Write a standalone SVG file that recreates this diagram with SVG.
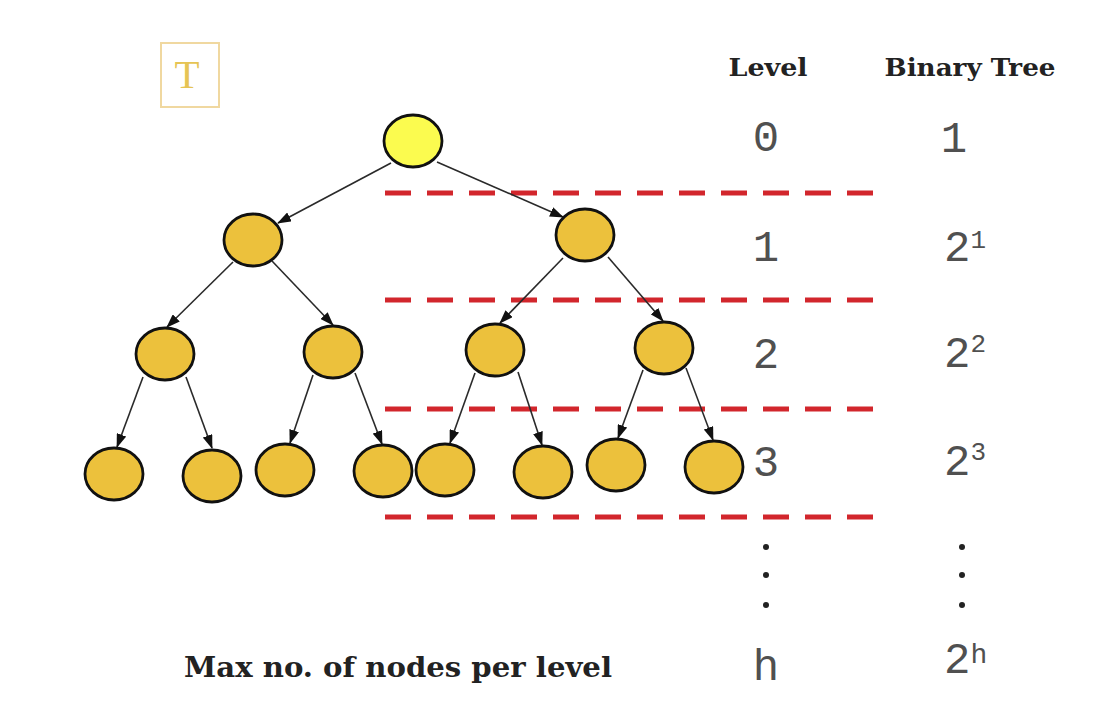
<svg xmlns="http://www.w3.org/2000/svg" width="1116" height="712" viewBox="0 0 1116 712">
<style>
.node{fill:#ecc13c;stroke:#111;stroke-width:2.8}
.root{fill:#fbfb4f;stroke:#111;stroke-width:2.8}
.edge{stroke:#2a2a2a;stroke-width:1.6;fill:none;marker-end:url(#arr)}
.dash{stroke:#d2262c;stroke-width:5;stroke-dasharray:26 16;fill:none}
.hdr{font-family:"DejaVu Serif",serif;font-weight:bold;fill:#222}
.num{font-family:"Liberation Mono","Courier New",monospace;font-size:44px;fill:#505050}
.dot{fill:#222}
</style>
<defs>
<marker id="arr" markerWidth="14" markerHeight="10" refX="13" refY="5" orient="auto" markerUnits="userSpaceOnUse">
<path d="M0,0 L14,5 L0,10 Z" fill="#111"/>
</marker>
</defs>
<rect width="1116" height="712" fill="#fff"/>

<g id="label-T">
<rect x="161" y="43" width="58" height="64" fill="none" stroke="#f0d8a0" stroke-width="2"/>
<text x="187" y="88" text-anchor="middle" font-family="Liberation Serif,serif" font-size="41" fill="#e6c454">T</text>
</g>

<g id="levels">
<line class="dash" x1="385" y1="193" x2="873" y2="193"/>
<line class="dash" x1="385" y1="300" x2="873" y2="300"/>
<line class="dash" x1="385" y1="409" x2="873" y2="409"/>
<line class="dash" x1="385" y1="517" x2="873" y2="517"/>
</g>

<g id="connectors">
<line class="edge" x1="391" y1="163" x2="278" y2="223"/>
<line class="edge" x1="437" y1="162" x2="563" y2="217"/>
<line class="edge" x1="233" y1="262" x2="167" y2="327"/>
<line class="edge" x1="272" y1="261" x2="333" y2="325"/>
<line class="edge" x1="563" y1="258" x2="500" y2="323"/>
<line class="edge" x1="608" y1="257" x2="663" y2="321"/>
<line class="edge" x1="143" y1="377" x2="117" y2="447"/>
<line class="edge" x1="186" y1="377" x2="212" y2="448"/>
<line class="edge" x1="313" y1="375" x2="290" y2="443"/>
<line class="edge" x1="355" y1="373" x2="382" y2="444"/>
<line class="edge" x1="475" y1="373" x2="450" y2="443"/>
<line class="edge" x1="518" y1="372" x2="542" y2="445"/>
<line class="edge" x1="643" y1="370" x2="618" y2="438"/>
<line class="edge" x1="686" y1="368" x2="713" y2="440"/>
</g>

<g id="n0"><ellipse class="root" cx="413" cy="141" rx="29" ry="26"/></g>
<g id="n1"><ellipse class="node" cx="253" cy="240" rx="29" ry="26"/></g>
<g id="n2"><ellipse class="node" cx="585" cy="235" rx="29" ry="26"/></g>
<g id="n3"><ellipse class="node" cx="165" cy="354" rx="29" ry="26"/></g>
<g id="n4"><ellipse class="node" cx="333" cy="352" rx="29" ry="26"/></g>
<g id="n5"><ellipse class="node" cx="495" cy="350" rx="29" ry="26"/></g>
<g id="n6"><ellipse class="node" cx="664" cy="348" rx="29" ry="26"/></g>
<g id="n7"><ellipse class="node" cx="114" cy="474" rx="29" ry="26"/></g>
<g id="n8"><ellipse class="node" cx="212" cy="476" rx="29" ry="26"/></g>
<g id="n9"><ellipse class="node" cx="285" cy="470" rx="29" ry="26"/></g>
<g id="n10"><ellipse class="node" cx="383" cy="471" rx="29" ry="26"/></g>
<g id="n11"><ellipse class="node" cx="445" cy="470" rx="29" ry="26"/></g>
<g id="n12"><ellipse class="node" cx="543" cy="472" rx="29" ry="26"/></g>
<g id="n13"><ellipse class="node" cx="616" cy="465" rx="29" ry="26"/></g>
<g id="n14"><ellipse class="node" cx="714" cy="467" rx="29" ry="26"/></g>

<g id="table">
<text class="hdr" x="768" y="76" text-anchor="middle" font-size="24" textLength="79" lengthAdjust="spacingAndGlyphs">Level</text>
<text class="hdr" x="970" y="76" text-anchor="middle" font-size="24" textLength="171" lengthAdjust="spacingAndGlyphs">Binary Tree</text>

<text class="num" x="766" y="151" text-anchor="middle">0</text>
<text class="num" x="766" y="261" text-anchor="middle">1</text>
<text class="num" x="766" y="368" text-anchor="middle">2</text>
<text class="num" x="766" y="476" text-anchor="middle">3</text>
<text class="num" x="766" y="680" text-anchor="middle">h</text>

<text class="num" x="954" y="152" text-anchor="middle">1</text>
<text class="num" x="944" y="261">2<tspan font-size="26" dy="-13">1</tspan></text>
<text class="num" x="944" y="367">2<tspan font-size="26" dy="-15">2</tspan></text>
<text class="num" x="944" y="475">2<tspan font-size="26" dy="-15">3</tspan></text>
<text class="num" x="944" y="673">2<tspan font-size="28" dy="-10">h</tspan></text>

<circle class="dot" cx="766" cy="547" r="3"/>
<circle class="dot" cx="766" cy="575" r="3"/>
<circle class="dot" cx="766" cy="605" r="3"/>
<circle class="dot" cx="962" cy="547" r="3"/>
<circle class="dot" cx="962" cy="575" r="3"/>
<circle class="dot" cx="962" cy="605" r="3"/>

<text class="hdr" x="184" y="677" font-size="28" textLength="428" lengthAdjust="spacingAndGlyphs">Max no. of nodes per level</text>
</g>
</svg>
